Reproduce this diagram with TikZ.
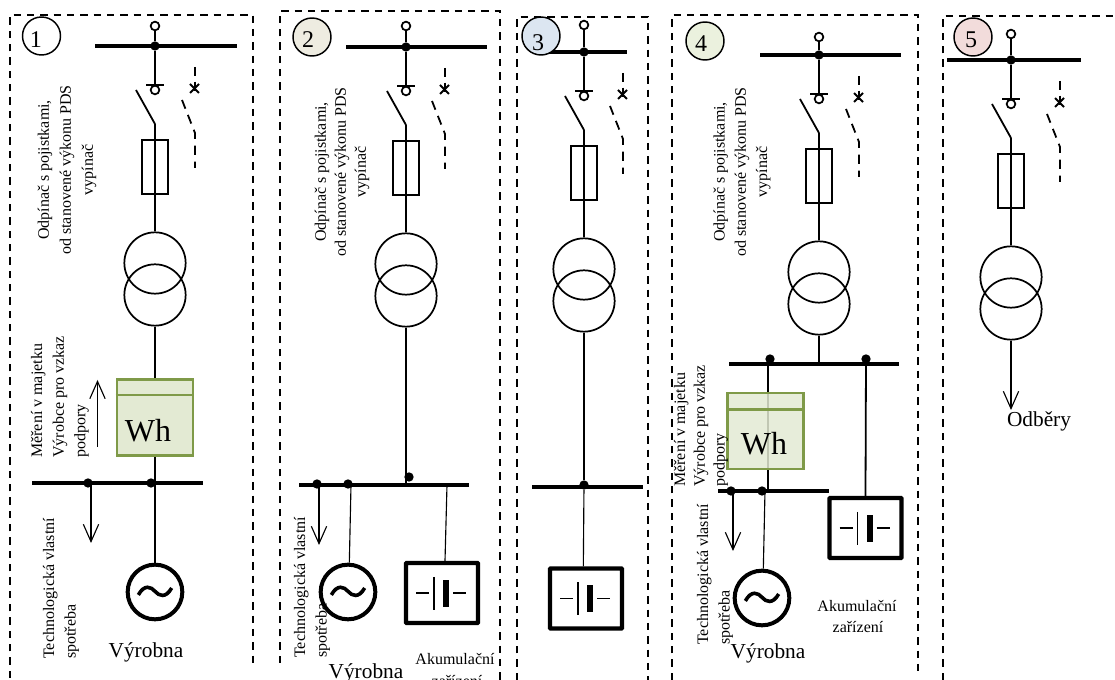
\documentclass[tikz,border=0pt]{standalone}
\usepackage{fontspec}
\setmainfont{Liberation Serif}
\usetikzlibrary{arrows.meta}
\definecolor{meterfill}{HTML}{E3EAD3}
\definecolor{meterline}{HTML}{7F9A48}
\definecolor{tagtwo}{HTML}{EEECE1}
\definecolor{tagthree}{HTML}{DCE6F1}
\definecolor{tagfour}{HTML}{EBF1DE}
\definecolor{tagfive}{HTML}{F2DCDB}
\tikzset{
	frame/.style={line width=1.2pt,dash pattern=on 5.5pt off 4.5pt},
	wire/.style={line width=0.85pt},
	heavy/.style={line width=1.35pt},
	busbar/.style={line width=2.9pt},
	dotnode/.style={circle,fill=black,inner sep=0pt,minimum size=7pt},
	ring/.style={circle,draw,line width=1.3pt,inner sep=0pt,minimum size=6.5pt},
	fuse/.style={rectangle,draw,line width=1.3pt,inner sep=0pt,minimum width=19pt,minimum height=41pt},
	winding/.style={circle,draw,line width=1.3pt,inner sep=0pt,minimum size=46pt},
	meter/.style={rectangle,draw=meterline,line width=1.9pt,fill=meterfill,inner sep=0pt,minimum width=57pt,minimum height=57pt},
	gen/.style={circle,draw,line width=3pt,inner sep=0pt,minimum size=41pt},
	batt/.style={rectangle,draw,line width=3.2pt,rounded corners=0.5pt,inner sep=0pt,minimum width=54pt,minimum height=45pt},
	tag/.style={circle,draw,line width=1.1pt,inner sep=0pt,minimum size=28.5pt},
	tagnum/.style={font=\fontsize{18}{18}\selectfont,inner sep=0pt},
	side/.style={rotate=90,inner sep=0pt,align=#1,font=\fontsize{12}{16.2}\selectfont},
	side/.default=center,
	plain/.style={inner sep=0pt,font=\fontsize{12}{12}\selectfont},
	big/.style={inner sep=0pt,font=\fontsize{16}{16}\selectfont},
	wh/.style={inner sep=0pt,font=\fontsize{24}{24}\selectfont},
	load/.style={line width=0.85pt,-{Straight Barb[length=13pt,width=11.5pt]}}
}
\begin{document}
\begin{tikzpicture}[x=0.75pt,y=-0.75pt]
	\useasboundingbox (0,0) rectangle (1115,680);

	\draw[frame] (10,678) -- (10,15) -- (253,15) -- (253,663);
	\draw[frame] (280,663) -- (280,11) -- (500,11) -- (500,680);
	\draw[frame] (517,680) -- (517,17) -- (648,17) -- (648,680);
	\draw[frame] (672,680) -- (672,15) -- (918,15) -- (918,677);
	\draw[frame] (943,680) -- (943,16) -- (1115,16);

	\foreach \n/\ax/\dy/\bl/\br/\dx/\ry in {1/155/0/-60/82/40/26,2/406/1/-60/81/39/25,3/584/6/-37/43/39/19,4/819/9/-59/82/40/28,5/1011/14/-64/70/49/20} {
		\begin{scope}[shift={(\ax,\dy)}]
			\node[ring] (top\n) at (0,\ry) {};
			\node[dotnode] (tee\n) at (0,46) {};
			\coordinate (busl\n) at (\bl,46);
			\coordinate (busr\n) at (\br,46);
			\coordinate (gnd\n) at (0,85);
			\coordinate (gndl\n) at (-9,85);
			\coordinate (gndr\n) at (9,85);
			\node[ring] (fix\n) at (0,90) {};
			\coordinate (bladetop\n) at (-19,90);
			\coordinate (hinge\n) at (0,124);
			\node[fuse] (fuse\n) at (0,167) {};
			\node[winding] (upper\n) at (0,263) {};
			\node[winding] (lower\n) at (0,295) {};
			\coordinate (da\n) at (\dx,67);
			\coordinate (db\n) at (\dx,93);
			\coordinate (xa\n) at (\dx-5,84);
			\coordinate (xb\n) at (\dx+4,93);
			\coordinate (xc\n) at (\dx+4,84);
			\coordinate (xd\n) at (\dx-5,93);
			\coordinate (dc\n) at (\dx-13,100);
			\coordinate (dd\n) at (\dx,133);
			\coordinate (de\n) at (\dx,168);

			\draw[busbar] (busl\n) -- (busr\n);
			\draw[heavy] (top\n) -- (tee\n);
			\draw[heavy] (tee\n) -- (gnd\n);
			\draw[heavy] (gndl\n) -- (gndr\n);
			\draw[heavy] (bladetop\n) -- (hinge\n);
			\draw[wire] (hinge\n) -- (upper\n.north);
			\draw[heavy,dash pattern=on 7pt off 4pt] (da\n) -- (db\n);
			\draw[heavy] (xa\n) -- (xb\n);
			\draw[heavy] (xc\n) -- (xd\n);
			\draw[heavy,dash pattern=on 7pt off 5pt] (dc\n) -- (dd\n) -- (de\n);
		\end{scope}
	}

	\node[gen] (gen1) at (155,592) {};
	\node[gen] (gen2) at (348,592) {};
	\node[gen] (gen4) at (762,598) {};
	\foreach \n in {1,2,4} {
		\draw[line width=2.7pt] ([xshift=-12.5pt,yshift=-2.2pt]gen\n.center) .. controls ([xshift=-8pt,yshift=6pt]gen\n.center) and ([xshift=-3pt,yshift=4pt]gen\n.center) .. ([yshift=0.5pt]gen\n.center) .. controls ([xshift=3pt,yshift=-3pt]gen\n.center) and ([xshift=8pt,yshift=-5pt]gen\n.center) .. ([xshift=12.5pt,yshift=3pt]gen\n.center);
	}

	\node[batt] (batt2) at (442,593) {};
	\node[batt] (batt3) at (586,598.5) {};
	\node[batt] (batt4) at (865.5,528) {};
	\foreach \n in {2,3,4} {
		\draw[heavy] ([xshift=-19.5pt]batt\n.center) -- ([xshift=-9.75pt]batt\n.center);
		\draw[line width=1.1pt] ([xshift=-6pt,yshift=12pt]batt\n.center) -- ([xshift=-6pt,yshift=-12.5pt]batt\n.center);
		\fill ([xshift=0.75pt,yshift=10pt]batt\n.center) rectangle ([xshift=5.25pt,yshift=-10.5pt]batt\n.center);
		\draw[heavy] ([xshift=8.25pt]batt\n.center) -- ([xshift=18pt]batt\n.center);
	}

	% panel 1
	\coordinate (busla) at (32,483);
	\coordinate (busra) at (203,483);
	\node[dotnode] (tapa) at (88,483) {};
	\node[dotnode] (tapb) at (151,483) {};
	\coordinate (loada) at (91,483);
	\coordinate (loadb) at (91,543);
	\coordinate (flowa) at (97.5,447);
	\coordinate (flowb) at (97.5,380);
	\node[meter] (meter1) at (155,417.5) {};
	\node[wh] (wh1) at (148,431) {Wh};
	\draw[meterline,line width=1.9pt] ([yshift=-12.75pt]meter1.north west) -- ([yshift=-12.75pt]meter1.north east);
	\draw[wire] (lower1.south) -- (meter1.north);
	\draw[wire] (meter1.south) -- (gen1.north);
	\draw[busbar] (busla) -- (busra);
	\draw[load] (loada) -- (loadb);
	\draw[load] (flowa) -- (flowb);
	\node[side=left,anchor=west] (measure1) at (60,458) {Měření v majetku\\Výrobce pro vzkaz\\podpory};
	\node[side=left,anchor=west] (own1) at (61,659) {Technologická vlastní\\spotřeba};
	\node[big] (plant1) at (146,652) {Výrobna};

	% panel 2
	\coordinate (buslb) at (299,485);
	\coordinate (busrb) at (469,485);
	\node[dotnode] (tapc) at (317,484) {};
	\node[dotnode] (tapd) at (348,484) {};
	\node[dotnode] (tape) at (409,477) {};
	\coordinate (feedb) at (406,485);
	\coordinate (loadc) at (319,485);
	\coordinate (loadd) at (319,545);
	\coordinate (genb) at (351,485);
	\coordinate (battb) at (447,485);
	\draw[busbar] (buslb) -- (busrb);
	\draw[wire] (lower2.south) -- (feedb);
	\draw[load] (loadc) -- (loadd);
	\draw[wire] (genb) -- ([xshift=1pt]gen2.north);
	\draw[wire] (battb) -- ([xshift=2.25pt]batt2.north);
	\node[side=left,anchor=west] (own2) at (312,658) {Technologická vlastní\\spotřeba};
	\node[big] (plant2) at (366,673) {Výrobna};
	\node[plain] (store2a) at (455,659) {Akumulační};
	\node[plain] (store2b) at (457,681) {zařízení};

	% panel 3
	\coordinate (buslc) at (532,487);
	\coordinate (busrc) at (643,487);
	\node[dotnode] (tapf) at (584,485) {};
	\draw[busbar] (buslc) -- (busrc);
	\draw[wire] (lower3.south) -- (tapf);
	\draw[wire] (tapf) -- ([xshift=-2pt]batt3.north);

	% panel 4
	\coordinate (busld) at (729,364);
	\coordinate (busrd) at (899,364);
	\node[dotnode] (tapg) at (770,359) {};
	\node[dotnode] (taph) at (866,359) {};
	\coordinate (feedd) at (819,364);
	\coordinate (busle) at (718,491);
	\coordinate (busre) at (829,491);
	\node[dotnode] (tapi) at (731,491) {};
	\node[dotnode] (tapj) at (762,491) {};
	\coordinate (metin) at (768,360);
	\coordinate (metout) at (768,491);
	\coordinate (loade) at (733,491);
	\coordinate (loadf) at (733,551);
	\coordinate (gene) at (765,491);
	\draw[busbar] (busld) -- (busrd);
	\draw[busbar,line width=2.4pt] (busle) -- (busre);
	\draw[wire] (lower4.south) -- (feedd);
	\draw[heavy] (metin) -- (metout);
	\draw[heavy] (taph) -- (batt4.north);
	\draw[load] (loade) -- (loadf);
	\draw[wire] (gene) -- ([xshift=1pt]gen4.north);
	\node[meter,fill opacity=0.85] (meter4) at (765.5,431) {};
	\node[wh] (wh4) at (764,444) {Wh};
	\draw[meterline,line width=1.9pt] ([yshift=-13.5pt]meter4.north west) -- ([yshift=-13.5pt]meter4.north east);
	\node[side=left,anchor=west,font=\fontsize{12}{14.8}\selectfont] (measure4) at (701,487) {Měření v majetku\\Výrobce pro vzkaz\\podpory};
	\node[side=left,anchor=west] (own4) at (715,645) {Technologická vlastní\\spotřeba};
	\node[big] (plant4) at (768,653) {Výrobna};
	\node[plain] (store4a) at (857,606) {Akumulační};
	\node[plain] (store4b) at (858,627) {zařízení};

	% panel 5
	\coordinate (loadg) at (1011,410);
	\draw[load] (lower5.south) -- (loadg);
	\node[big] (sink5) at (1039,421) {Odběry};

	% notes and numbers
	\node[side,font=\fontsize{12}{16.5}\selectfont] (note1) at (67,170) {Odpínač s pojistkami,\\od stanovené výkonu PDS\\vypínač};
	\node[side,font=\fontsize{12}{15}\selectfont] (note2) at (342,172) {Odpínač s pojistkami,\\od stanovené výkonu PDS\\vypínač};
	\node[side,font=\fontsize{12}{16}\selectfont] (note4) at (742,172) {Odpínač s pojistkami,\\od stanovené výkonu PDS\\vypínač};
	\node[tag,fill=white] (tag1) at (41.5,36) {};
	\node[tag,fill=tagtwo] (tag2) at (312,37) {};
	\node[tag,fill=tagthree] (tag3) at (541,36) {};
	\node[tag,fill=tagfour] (tag4) at (705,41) {};
	\node[tag,fill=tagfive] (tag5) at (973,37) {};
	\node[tagnum] (num1) at (36,40) {1};
	\node[tagnum] (num2) at (308,40) {2};
	\node[tagnum] (num3) at (538,43) {3};
	\node[tagnum] (num4) at (701,44) {4};
	\node[tagnum] (num5) at (971,40) {5};
\end{tikzpicture}
\end{document}
